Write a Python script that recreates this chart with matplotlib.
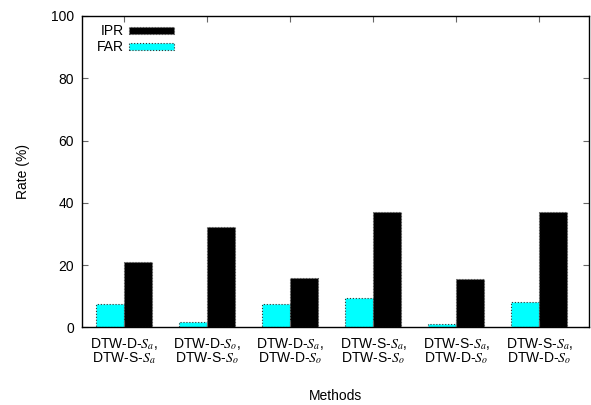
import numpy as np
import matplotlib
matplotlib.use('Agg')
import matplotlib.pyplot as plt

plt.rcParams['font.family'] = ['Liberation Sans', 'DejaVu Sans']
plt.rcParams['mathtext.fontset'] = 'stix'

methods = [
    'DTW-D-$S_a$,\nDTW-S-$S_a$',
    'DTW-D-$S_o$,\nDTW-S-$S_o$',
    'DTW-D-$S_a$,\nDTW-D-$S_o$',
    'DTW-S-$S_a$,\nDTW-S-$S_o$',
    'DTW-S-$S_a$,\nDTW-D-$S_o$',
    'DTW-S-$S_a$,\nDTW-D-$S_o$',
]
far = [7.6, 1.9, 7.5, 9.6, 1.1, 8.1]
ipr = [20.9, 32.1, 15.8, 37.1, 15.6, 37.1]

x = np.arange(len(methods))
w = 0.335
fs = 10

fig = plt.figure(figsize=(5.91, 4.05), dpi=100)
ax = fig.add_axes([0.1393, 0.1914, 0.8573, 0.7691])

ax.bar(x - w / 2, far, w, color='#00ffff', edgecolor='#333333',
       linestyle=':', linewidth=0.8, label='FAR')
ax.bar(x + w / 2, ipr, w, color='black', edgecolor='#555555',
       linestyle=':', linewidth=0.8, label='IPR')

ax.set_xlim(-0.5, 5.6)
ax.set_ylim(0, 100)
ax.set_xticks(x)
ax.set_xticklabels(methods, linespacing=0.9)
ax.set_yticks(range(0, 101, 20))
ax.tick_params(direction='in', length=4, width=0.8, color='#666666',
               top=True, right=True, labelsize=fs, pad=6)
for s in ax.spines.values():
    s.set_linewidth(1.0)

ax.set_ylabel('Rate (%)', fontsize=fs, labelpad=15)
ax.set_xlabel('Methods', fontsize=fs, labelpad=16)

h, l = ax.get_legend_handles_labels()
ax.legend(h[::-1], l[::-1], loc='upper left', bbox_to_anchor=(0.012, 1.0),
          frameon=False, markerfirst=False, fontsize=fs, handlelength=3.2,
          handleheight=0.45, labelspacing=0.15, borderaxespad=0.3,
          handletextpad=0.4, borderpad=0.3)

fig.savefig('out.png', dpi=100)
